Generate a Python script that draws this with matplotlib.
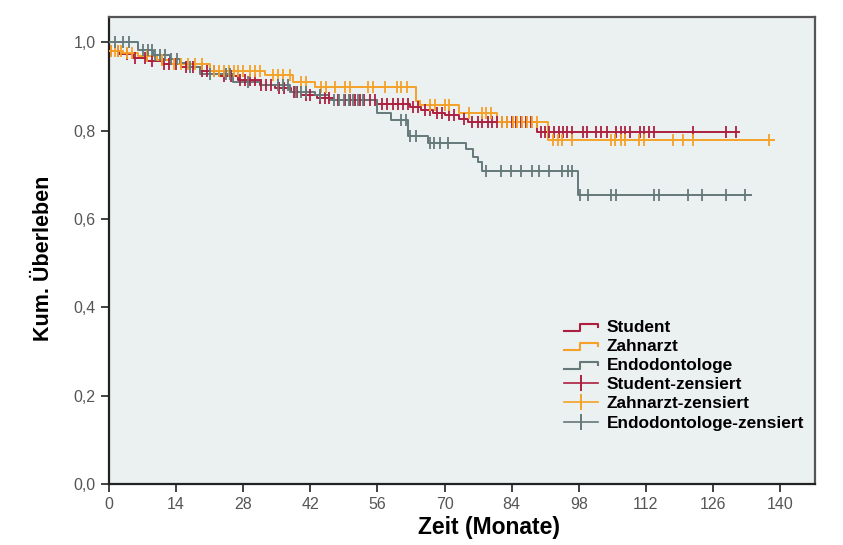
import numpy as np
import matplotlib
matplotlib.use("Agg")
import matplotlib.pyplot as plt
from matplotlib.lines import Line2D
from matplotlib.legend_handler import HandlerBase

# Kaplan-Meier steps per group (time in months, cumulative survival)
student_t = [0, 2, 5, 8, 11, 15, 19, 23, 27, 31.5, 34.6, 38, 40, 43.3, 46.7,
             56, 62.7, 65, 67.5, 70, 73, 75, 89.4]
student_s = [0.980, 0.973, 0.965, 0.958, 0.950, 0.943, 0.935, 0.924, 0.914, 0.903,
             0.896, 0.888, 0.880, 0.873, 0.869, 0.861, 0.854, 0.846, 0.840, 0.835,
             0.827, 0.820, 0.797]
student_end = 131.5
student_cens = [0.5, 1.9, 3.7, 5.5, 7.5, 9, 11.5, 12.5, 14, 16, 17.5, 19.5, 20.5, 22,
                24, 25.5, 27.3, 28.3, 29.4, 30.4, 31.8, 32.8, 33.9, 35.5, 36.5, 38.5,
                39.3, 41, 42, 44, 45, 46, 47.8, 49.2, 50.2, 51.25, 52.3, 53.3, 54.4,
                55.4, 57, 58.1, 59.2, 60.2, 61.25, 62.3, 63.5, 64.5, 66, 67, 68.5,
                69.5, 71, 72, 74, 75.8, 76.9, 77.9, 79, 80, 81, 82, 83, 84, 85, 86, 87,
                88, 90.1, 91, 91.9, 92.9, 93.8, 94.8, 95.6, 96.7, 98.8, 99.8, 101.7,
                102.7, 103.8, 105.8, 106.9, 107.7, 108.8, 110.8, 111.7, 112.7, 113.75,
                121.9, 128.75, 130.8]

zahnarzt_t = [0, 3, 6, 10, 13, 21, 32.5, 38.4, 42.9, 64, 64.8, 73.1, 81, 91.5]
zahnarzt_s = [0.980, 0.975, 0.968, 0.960, 0.950, 0.935, 0.925, 0.910, 0.899, 0.867,
              0.857, 0.840, 0.820, 0.778]
zahnarzt_end = 138.7
zahnarzt_cens = [0.5, 1.25, 1.9, 2.6, 3.7, 4.7, 8, 11, 13.5, 15, 16.5, 18, 19.5, 22, 23,
                 24, 25, 26, 27, 28, 29.5, 30.5, 31.5, 34.2, 35.2, 36.3, 37.7, 40, 41,
                 44.3, 45.3, 47.1, 49.2, 50.2, 54, 55, 57.5, 60, 61, 62.1, 66.9, 68.1,
                 70, 71, 75.2, 77.9, 78.75, 79.8, 82, 83.1, 84.2, 85.2, 86.25, 87.3,
                 88.3, 89.4, 92.6, 93.6, 94.6, 96.7, 104.7, 105.6, 106.8, 107.7, 110.6,
                 111.7, 117.7, 119.8, 121.9, 137.7]

endo_t = [0, 6.1, 9.2, 12.7, 14.8, 16.2, 19, 25.9, 31.8, 37.7, 42.9, 46, 56, 58.9,
          62.3, 66.5, 74.5, 75.9, 76.9, 77.9, 97.9]
endo_s = [1.000, 0.982, 0.971, 0.963, 0.953, 0.944, 0.927, 0.910, 0.903, 0.888, 0.880,
          0.869, 0.839, 0.824, 0.787, 0.771, 0.758, 0.741, 0.729, 0.708, 0.654]
endo_end = 134
endo_cens = [1.25, 3, 4.2, 7.1, 8.2, 8.9, 9.6, 10.6, 11.7, 13, 14.1, 17, 21, 24.5, 25.2,
             29, 35.3, 36.3, 37.3, 39.1, 40.1, 41.2, 44, 47, 48, 49, 50, 51, 52, 53, 61,
             61.9, 62.7, 64, 66.9, 67.9, 69, 70.8, 78.7, 81.8, 83.9, 86, 88.2, 89.8,
             91.9, 94.6, 95.7, 96.7, 98.3, 99.9, 104.7, 105.8, 113.75, 114.8, 120.7,
             123.8, 128.7, 132.7]

x_ticks = [0, 14, 28, 42, 56, 70, 84, 98, 112, 126, 140]
y_ticks = [0.0, 0.2, 0.4, 0.6, 0.8, 1.0]

groups = [
    ("Student", student_t, student_s, student_end, student_cens, "#AD1F3F"),
    ("Zahnarzt", zahnarzt_t, zahnarzt_s, zahnarzt_end, zahnarzt_cens, "#F5A127"),
    ("Endodontologe", endo_t, endo_s, endo_end, endo_cens, "#66797A"),
]


class StepHandler(HandlerBase):
    """draws a small step line as legend icon"""

    def create_artists(self, legend, orig_handle, xdescent, ydescent,
                       width, height, fontsize, trans):
        x = np.array([0, 0.45, 0.45, 1.0, 1.0]) * width - xdescent
        y = np.array([0.1, 0.1, 0.7, 0.7, 0.45]) * height - ydescent
        line = Line2D(x, y, color=orig_handle.get_color(), lw=1.5)
        line.set_transform(trans)
        return [line]


fig = plt.figure(figsize=(8.43, 5.45), dpi=100)
ax = fig.add_axes([0.1293, 0.1119, 0.9668 - 0.1293, 0.9688 - 0.1119])
ax.set_facecolor("#EBF0F0")

step_handles = []
cens_handles = []
for name, t, s, end, cens, color in groups:
    xs = list(t) + [end]
    ys = list(s) + [s[-1]]
    ax.plot(xs, ys, drawstyle="steps-post", color=color, lw=1.4, zorder=3)
    # censored points sit on the curve
    idx = np.searchsorted(t, cens, side="right") - 1
    cy = np.array(s)[idx]
    ax.plot(cens, cy, linestyle="none", marker="|", ms=8, mew=1.3,
            color=color, zorder=4)
    step_handles.append(Line2D([], [], color=color))
    cens_handles.append(Line2D([], [], color=color, lw=1.2, marker="|",
                               ms=12, mew=1.4))

# axes and ticks
ax.set_xlim(0, 147.3)
ax.set_ylim(0, 1.057)
ax.set_xticks(x_ticks)
ax.set_yticks(y_ticks)
ax.set_yticklabels([f"{v:.1f}".replace(".", ",") for v in y_ticks])
ax.tick_params(axis="both", direction="out", length=6, width=1.3,
               color="#333333", labelsize=11.5, labelcolor="#555555")
for lab in ax.get_xticklabels() + ax.get_yticklabels():
    lab.set_family(["Liberation Sans", "DejaVu Sans"])
for sp in ax.spines.values():
    sp.set_color("#555555")
    sp.set_linewidth(1.6)
ax.spines["left"].set_color("#222222")
ax.spines["bottom"].set_color("#222222")

lab_font = ["Liberation Sans Narrow", "Liberation Sans", "DejaVu Sans"]
ax.set_xlabel("Zeit (Monate)", fontsize=16.5, fontweight="bold", family=lab_font)
ax.set_ylabel("Kum. Überleben", fontsize=15.5, fontweight="bold", family=lab_font)
ax.xaxis.set_label_coords(0.538, -0.068)
ax.yaxis.set_label_coords(-0.078, 0.483)

labels = ["Student", "Zahnarzt", "Endodontologe",
          "Student-zensiert", "Zahnarzt-zensiert", "Endodontologe-zensiert"]
handler_map = {h: StepHandler() for h in step_handles}
leg = ax.legend(step_handles + cens_handles, labels, handler_map=handler_map,
                loc="upper left", bbox_to_anchor=(0.628, 0.377), frameon=False,
                prop={"family": ["Liberation Sans", "DejaVu Sans"],
                      "weight": "bold", "size": 12.4},
                handlelength=1.95, handletextpad=0.5, labelspacing=0.235,
                numpoints=1, borderpad=0.2)

fig.savefig("out.png", dpi=100)
